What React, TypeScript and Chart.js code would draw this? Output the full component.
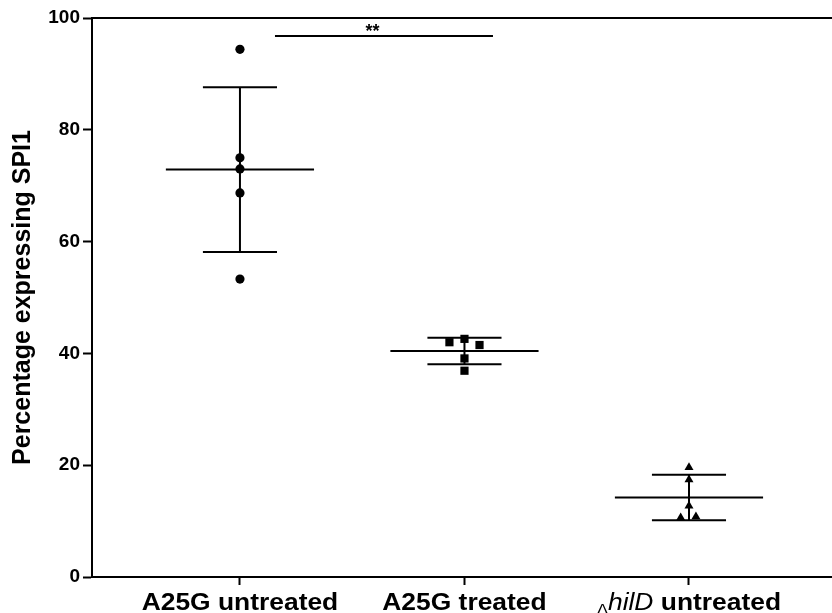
import { useEffect, useRef } from "react";
import { Chart, registerables } from "chart.js";

Chart.register(...registerables);

// ---- data ----
const categories = ["A25G untreated", "A25G treated", "ΔhilD untreated"];
const untreatedValues = [94.4, 75.0, 73.0, 68.7, 53.3];
const untreatedJitter = [0, 0, 0, 0, 0];
const treatedValues = [42.0, 42.6, 41.5, 39.1, 36.9];
const treatedJitter = [-0.067, 0, 0.067, 0, 0];
const hildValues = [19.6, 17.4, 12.7, 10.6, 10.8];
const hildJitter = [0, 0, 0, -0.037, 0.031];
const yTicks = [0, 20, 40, 60, 80, 100];
const sigBarX = [0.156, 1.127];
const sigBarY = [96.8, 96.8];
const sigLabel = "**";
const sigLabelX = 0.59;

const FONT = "'Liberation Sans', Arial, Helvetica, sans-serif";
const MEAN_HALF = 0.33;
const CAP_HALF = 0.165;

function mean(a: number[]) {
  return a.reduce((s, v) => s + v, 0) / a.length;
}
function sd(a: number[]) {
  const m = mean(a);
  return Math.sqrt(a.reduce((s, v) => s + (v - m) * (v - m), 0) / (a.length - 1));
}

const groups = [
  { values: untreatedValues, jitter: untreatedJitter, style: "circle", radius: 4.6 },
  { values: treatedValues, jitter: treatedJitter, style: "rect", radius: 5.8 },
  { values: hildValues, jitter: hildJitter, style: "triangle", radius: 5.2 },
];

function seg(x1: number, y1: number, x2: number, y2: number) {
  return {
    type: "line" as const,
    data: [
      { x: x1, y: y1 },
      { x: x2, y: y2 },
    ],
    borderColor: "#000",
    borderWidth: 2,
    pointRadius: 0,
    showLine: true,
    fill: false,
    order: 2,
  };
}

export default function App() {
  const ref = useRef<HTMLCanvasElement | null>(null);

  useEffect(() => {
    if (!ref.current) return;
    const datasets: any[] = [];
    groups.forEach((g, i) => {
      const m = mean(g.values);
      const s = sd(g.values);
      datasets.push(seg(i - MEAN_HALF, m, i + MEAN_HALF, m));
      datasets.push(seg(i, m - s, i, m + s));
      datasets.push(seg(i - CAP_HALF, m + s, i + CAP_HALF, m + s));
      datasets.push(seg(i - CAP_HALF, m - s, i + CAP_HALF, m - s));
      datasets.push({
        type: "scatter",
        data: g.values.map((v, k) => ({ x: i + g.jitter[k], y: v })),
        pointStyle: g.style,
        pointRadius: g.radius,
        pointBackgroundColor: "#000",
        pointBorderColor: "#000",
        pointBorderWidth: 0,
        showLine: false,
        order: 0,
      });
    });
    datasets.push(seg(sigBarX[0], sigBarY[0], sigBarX[1], sigBarY[1]));

    const labelsPlugin = {
      id: "customText",
      afterDraw(chart: any) {
        const ctx = chart.ctx;
        const xs = chart.scales.x;
        const area = chart.chartArea;
        ctx.save();
        // top frame line
        ctx.strokeStyle = "#000";
        ctx.lineWidth = 2;
        ctx.beginPath();
        ctx.moveTo(area.left - 1, area.top);
        ctx.lineTo(area.right, area.top);
        ctx.stroke();

        ctx.fillStyle = "#000";
        ctx.textBaseline = "alphabetic";
        const baseY = area.bottom + 33;
        const sx = 1.1;
        categories.forEach((c, i) => {
          const cx = xs.getPixelForValue(i);
          ctx.save();
          ctx.translate(cx, baseY);
          ctx.scale(sx, 1);
          if (c.startsWith("Δ")) {
            const parts = [
              { t: "Δ", f: `normal 15px ${FONT}`, dy: 4 },
              { t: "hilD", f: `italic 24px ${FONT}`, dy: 0 },
              { t: " " + c.slice(5).trim(), f: `bold 24px ${FONT}`, dy: 0 },
            ];
            let total = 0;
            const widths = parts.map((p) => {
              ctx.font = p.f;
              const w = ctx.measureText(p.t).width;
              total += w;
              return w;
            });
            let x = -total / 2;
            ctx.textAlign = "left";
            parts.forEach((p, k) => {
              ctx.font = p.f;
              ctx.fillText(p.t, x, p.dy);
              x += widths[k];
            });
          } else {
            ctx.font = `bold 24px ${FONT}`;
            ctx.textAlign = "center";
            ctx.fillText(c, 0, 0);
          }
          ctx.restore();
        });

        // significance label
        const ys = chart.scales.y;
        ctx.font = `bold 18px ${FONT}`;
        ctx.textAlign = "center";
        ctx.fillText(sigLabel, xs.getPixelForValue(sigLabelX), ys.getPixelForValue(sigBarY[0]) + 1);
        ctx.restore();
      },
    };

    const chart = new Chart(ref.current, {
      type: "scatter",
      data: { datasets },
      plugins: [labelsPlugin],
      options: {
        animation: false,
        responsive: false,
        maintainAspectRatio: false,
        layout: { autoPadding: false, padding: { top: 18, right: 0, bottom: 0, left: 0 } },
        plugins: { legend: { display: false }, tooltip: { enabled: false } },
        scales: {
          x: {
            type: "linear",
            min: -0.659,
            max: 2.637,
            afterBuildTicks: (scale: any) => {
              scale.ticks = categories.map((_, i) => ({ value: i }));
            },
            afterFit: (scale: any) => {
              scale.height = 36;
              scale.paddingLeft = 0;
              scale.paddingRight = 0;
            },
            ticks: { callback: () => "", maxRotation: 0 },
            grid: {
              display: true,
              drawOnChartArea: false,
              drawTicks: true,
              tickLength: 8,
              tickColor: "#000",
              tickWidth: 2,
            },
            border: { display: true, color: "#000", width: 2 },
          },
          y: {
            min: 0,
            max: 100,
            afterBuildTicks: (scale: any) => {
              scale.ticks = yTicks.map((v) => ({ value: v }));
            },
            afterFit: (scale: any) => {
              scale.width = 92;
            },
            ticks: {
              color: "#000",
              font: { family: FONT, size: 19, weight: "bold" },
              padding: 3,
            },
            grid: {
              display: true,
              drawOnChartArea: false,
              drawTicks: true,
              tickLength: 9,
              tickColor: "#000",
              tickWidth: 2,
            },
            border: { display: true, color: "#000", width: 2 },
            title: {
              display: true,
              text: "Percentage expressing SPI1",
              color: "#000",
              font: { family: FONT, size: 25, weight: "bold" },
              padding: { top: 8, bottom: 0 },
            },
          },
        },
      },
    } as any);
    return () => chart.destroy();
  }, []);

  return (
    <div style={{ position: "fixed", left: 0, top: 0, width: 832, height: 613, background: "#fff" }}>
      <canvas ref={ref} width={832} height={613} style={{ display: "block" }} />
    </div>
  );
}
